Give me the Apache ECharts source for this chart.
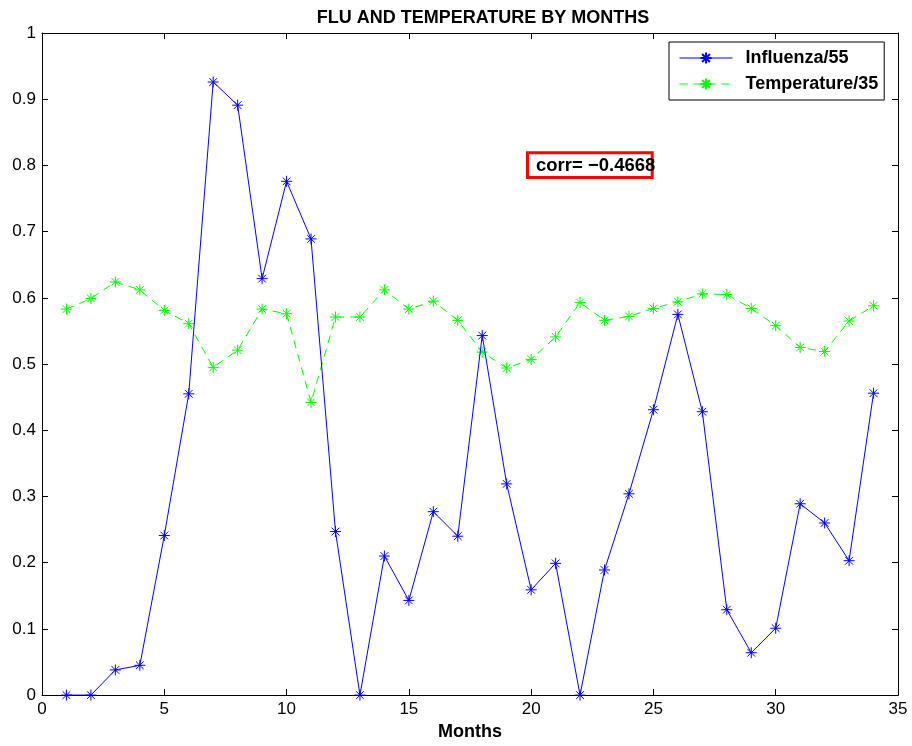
<!DOCTYPE html>
<html>
<head>
<meta charset="utf-8">
<script src="https://cdn.jsdelivr.net/npm/echarts@6/dist/echarts.min.js"></script>
<style>
  html, body { margin: 0; padding: 0; background: #fff; }
  #chart { width: 912px; height: 746px; }
</style>
</head>
<body>
<div id="chart"></div>
<script>
// Monthly flu cases and temperature, each scaled (flu / 55, temperature / 35)
const months = [1, 2, 3, 4, 5, 6, 7, 8, 9, 10, 11, 12, 13, 14, 15, 16, 17,
  18, 19, 20, 21, 22, 23, 24, 25, 26, 27, 28, 29, 30, 31, 32, 33, 34];
const influenza = [0, 0, 0.038, 0.045, 0.241, 0.455, 0.926, 0.891, 0.629, 0.776, 0.689, 0.247,
  0, 0.21, 0.143, 0.277, 0.24, 0.543, 0.319, 0.159, 0.199, 0, 0.189, 0.304,
  0.431, 0.575, 0.428, 0.129, 0.064, 0.101, 0.289, 0.26, 0.203, 0.456];
const temperature = [0.583, 0.599, 0.624, 0.612, 0.581, 0.561, 0.495, 0.521, 0.583, 0.576, 0.442, 0.571,
  0.571, 0.612, 0.583, 0.595, 0.566, 0.518, 0.494, 0.507, 0.541, 0.593, 0.566, 0.572,
  0.584, 0.594, 0.606, 0.605, 0.584, 0.558, 0.525, 0.519, 0.565, 0.588];
const seriesNames = ['Influenza/55', 'Temperature/35'];
const xTicks = { min: 0, max: 35, step: 5 };
const yTicks = { min: 0, max: 1, step: 0.1 };
const corrText = 'corr= \u22120.4668';
const corrAnchor = [20, 0.8];

const FONT = '"Liberation Sans", Arial, sans-serif';
const asterisk = 'path://M0,5L10,5M5,0L5,10M1.5,1.5L8.5,8.5M8.5,1.5L1.5,8.5';

const chart = echarts.init(document.getElementById('chart'));

const tickLabelStyle = { color: '#000', fontFamily: FONT, fontSize: 17 };
const axisLineStyle = { lineStyle: { color: '#000', width: 1 } };

function xAxisDef(pos, showLabels) {
  return {
    type: 'value', position: pos,
    min: xTicks.min, max: xTicks.max, interval: xTicks.step,
    axisLine: { show: true, onZero: false, ...axisLineStyle },
    axisTick: { show: true, inside: true, length: 6, lineStyle: { color: '#000' } },
    axisLabel: { show: showLabels, margin: 6, ...tickLabelStyle },
    splitLine: { show: false }
  };
}
function yAxisDef(pos, showLabels) {
  return {
    type: 'value', position: pos,
    min: yTicks.min, max: yTicks.max, interval: yTicks.step,
    axisLine: { show: true, onZero: false, ...axisLineStyle },
    axisTick: { show: true, inside: true, length: 6, lineStyle: { color: '#000' } },
    axisLabel: {
      show: showLabels, margin: 6, ...tickLabelStyle,
      formatter: v => String(Math.round(v * 10) / 10)
    },
    splitLine: { show: false }
  };
}

const xAxisBottom = xAxisDef('bottom', true);
xAxisBottom.name = 'Months';
xAxisBottom.nameLocation = 'middle';
xAxisBottom.nameGap = 26;
xAxisBottom.nameTextStyle = { color: '#000', fontFamily: FONT, fontSize: 18, fontWeight: 'bold' };

chart.setOption({
  animation: false,
  backgroundColor: '#fff',
  title: {
    text: 'FLU AND TEMPERATURE BY MONTHS',
    left: 478, top: 4, textAlign: 'center',
    textStyle: { color: '#000', fontFamily: FONT, fontSize: 18, fontWeight: 'bold' }
  },
  grid: { left: 42, right: 14, top: 33, bottom: 48, containLabel: false },
  xAxis: [xAxisBottom, xAxisDef('top', false)],
  yAxis: [yAxisDef('left', true), yAxisDef('right', false)],
  legend: {
    orient: 'vertical',
    left: 669, top: 42,
    backgroundColor: '#fff',
    borderColor: '#000', borderWidth: 1, borderRadius: 0,
    padding: [7, 6, 7, 10],
    itemWidth: 53, itemHeight: 14, itemGap: 8,
    lineStyle: { width: 1 },
    textStyle: { color: '#000', fontFamily: FONT, fontSize: 18, fontWeight: 'bold',
      lineHeight: 14, padding: [0, 0, 0, 8] },
    data: seriesNames
  },
  series: [
    {
      name: seriesNames[0], type: 'line',
      data: months.map((m, i) => [m, influenza[i]]),
      symbol: asterisk, symbolSize: 11,
      itemStyle: { color: '#0000ff', borderColor: '#0000ff', borderWidth: 1 },
      lineStyle: { color: '#0000ff', width: 1, type: 'solid' },
      z: 3
    },
    {
      name: seriesNames[1], type: 'line',
      data: months.map((m, i) => [m, temperature[i]]),
      symbol: asterisk, symbolSize: 11,
      itemStyle: { color: '#00ff00', borderColor: '#00ff00', borderWidth: 1 },
      lineStyle: { color: '#00ff00', width: 1, type: [8, 6] },
      z: 2
    }
  ]
});

// Correlation note: red frame and label placed in data coordinates
function placeNote() {
  const p0 = chart.convertToPixel({ gridIndex: 0 }, [19.85, 0.819]);
  const p1 = chart.convertToPixel({ gridIndex: 0 }, [24.95, 0.7816]);
  const pt = chart.convertToPixel({ gridIndex: 0 }, [corrAnchor[0] + 0.2, corrAnchor[1]]);
  chart.setOption({
    graphic: [
      {
        type: 'rect', z: 10,
        shape: { x: p0[0], y: p0[1], width: p1[0] - p0[0], height: p1[1] - p0[1] },
        style: { fill: 'none', stroke: '#ff0000', lineWidth: 3 }
      },
      {
        type: 'text', z: 11, x: pt[0], y: pt[1],
        style: { text: corrText, fill: '#000', font: 'bold 18.5px ' + FONT,
          textAlign: 'left', textVerticalAlign: 'middle' }
      }
    ]
  });
}
placeNote();
</script>
</body>
</html>
